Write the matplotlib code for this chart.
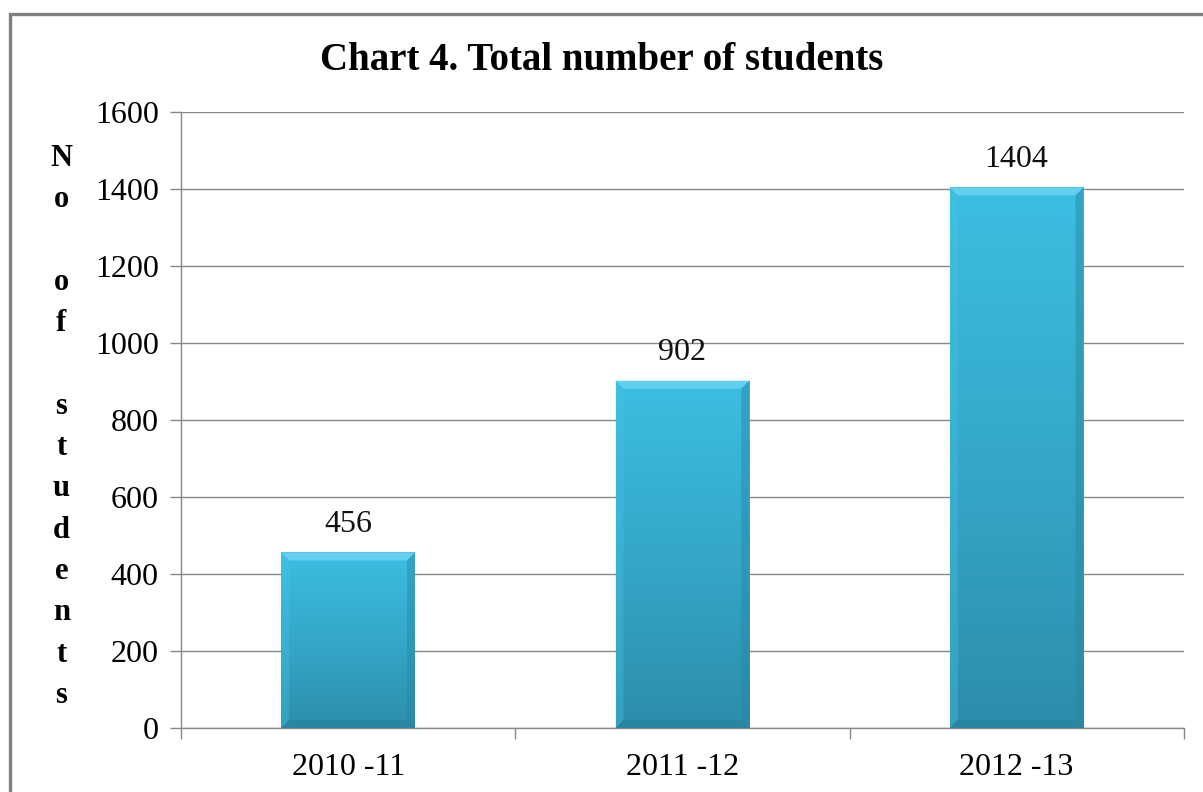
import numpy as np
import matplotlib.pyplot as plt
from matplotlib.colors import LinearSegmentedColormap
from matplotlib.patches import Rectangle, Polygon

# --- data ---
years = ['2010 -11', '2011 -12', '2012 -13']
students = [456, 902, 1404]
y_ticks = [0, 200, 400, 600, 800, 1000, 1200, 1400, 1600]

plt.rcParams['font.family'] = ['Liberation Serif', 'DejaVu Serif']

fig = plt.figure(figsize=(12.03, 7.92), dpi=100)
ax = fig.add_axes([0.1505, 0.0808, 0.8335, 0.7778])

# gradient from dark (bottom) to light (top)
cmap = LinearSegmentedColormap.from_list(
    'bar', [(0.0, '#2c8eaa'), (0.45, '#34a5c7'), (1.0, '#3cbee2')])

x = np.arange(len(years))
bars = ax.bar(x, students, width=0.4, color='none', edgecolor='none', zorder=3)
grad = np.linspace(0, 1, 256).reshape(-1, 1)
px_x = 3.0 / (0.8335 * 1203)  # data units per pixel along x
px_y = 1600 / (0.7778 * 792)
for b in bars:
    x0, w, h = b.get_x(), b.get_width(), b.get_height()
    im = ax.imshow(grad, extent=[x0, x0 + w, 0, h], origin='lower', cmap=cmap,
                   aspect='auto', zorder=3)
    im.set_clip_path(b)
    dx, dy = 8 * px_x, 8 * px_y
    # bevel: top light, right/bottom darker
    ax.add_patch(Polygon([(x0, h), (x0 + w, h), (x0 + w - dx, h - dy), (x0 + dx, h - dy)],
                         closed=True, color='#62d0ee', lw=0, zorder=4))
    ax.add_patch(Polygon([(x0 + w, h), (x0 + w, 0), (x0 + w - dx, dy), (x0 + w - dx, h - dy)],
                         closed=True, color='#2a84a0', alpha=0.45, lw=0, zorder=4))
    ax.add_patch(Polygon([(x0, 0), (x0 + w, 0), (x0 + w - dx, dy), (x0 + dx, dy)],
                         closed=True, color='#25768f', alpha=0.35, lw=0, zorder=4))
    ax.add_patch(Polygon([(x0, h), (x0, 0), (x0 + dx, dy), (x0 + dx, h - dy)],
                         closed=True, color='#45c4e6', alpha=0.35, lw=0, zorder=4))
    ax.text(x0 + w / 2, h + 36, str(int(h)),
            ha='center', va='bottom', fontsize=23, color='#111111')

ax.set_xlim(-0.5, len(years) - 0.5)
ax.set_ylim(0, 1600)
ax.set_yticks(y_ticks)
ax.set_yticklabels([str(v) for v in y_ticks], fontsize=23)
ax.set_xticks(x)
ax.set_xticklabels(years, fontsize=23)
ax.set_xticks(np.arange(len(years) + 1) - 0.5, minor=True)
ax.tick_params(axis='x', which='major', length=0, pad=18)
ax.tick_params(axis='x', which='minor', length=8, color='#888888', width=1)
ax.tick_params(axis='y', length=8, color='#888888', width=1, pad=8)

ax.grid(axis='y', color='#888888', linewidth=1, zorder=0)
ax.set_axisbelow(True)
for s in ['top', 'right']:
    ax.spines[s].set_visible(False)
for s in ['left', 'bottom']:
    ax.spines[s].set_color('#888888')
    ax.spines[s].set_linewidth(1)

fig.text(0.5, 0.924, 'Chart 4. Total number of students', ha='center', va='center',
         fontsize=28, fontweight='bold')

ylabel = 'N\no\n\no\nf\n\ns\nt\nu\nd\ne\nn\nt\ns'
fig.text(0.051, 0.461, ylabel, ha='center', va='center', fontsize=22,
         fontweight='bold', linespacing=1.56)

# outer grey frame (cut off at right and bottom like the source)
fig.add_artist(Rectangle((9.5 / 1203, -0.05), 1.2, 1 - 14 / 792 + 0.05,
                         transform=fig.transFigure, fill=False,
                         edgecolor='#808080', linewidth=2.4))

fig.savefig('out.png', dpi=100)
